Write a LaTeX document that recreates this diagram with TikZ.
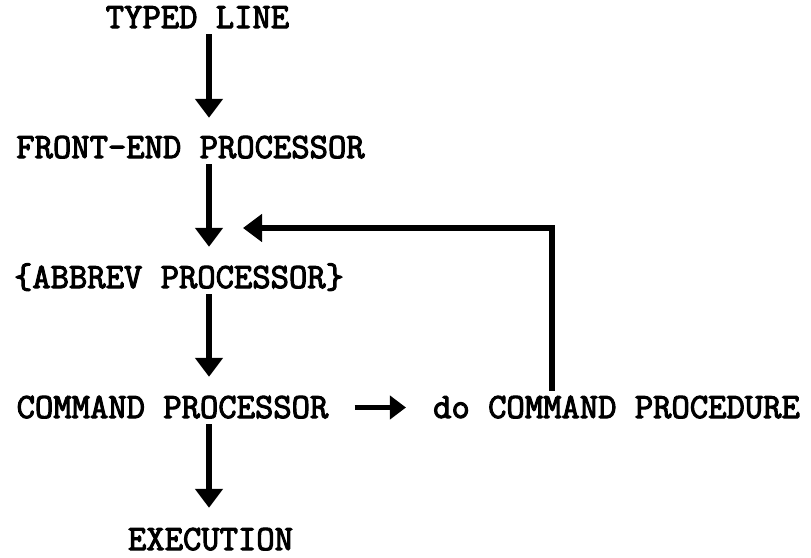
\documentclass[tikz,border=0pt]{standalone}
\usepackage{fontspec}
\newfontfamily\twfont{Latin Modern Mono}[FakeBold=3]
\usetikzlibrary{arrows.meta}
\begin{document}
\begin{tikzpicture}[x=1pt,y=-1pt,
  lbl/.style={anchor=base, inner xsep=0pt, inner ysep=6pt, text height=21pt, text depth=0pt,
    font=\twfont\fontsize{35.6}{40}\selectfont},
  arr/.style={line width=5.5pt, -{Triangle[width=27pt,length=19pt]}},
  sarr/.style={line width=5.5pt, -{Triangle[width=23pt,length=16pt]}}]
\useasboundingbox (0,0) rectangle (811,557);
\node[lbl] (tl) at (197.5,28) {TYPED LINE};
\node[lbl] (fe) at (190.5,158) {FRONT-END PROCESSOR};
\node[lbl] (ab) at (179,288) {\{ABBREV PROCESSOR\}};
\node[lbl] (cp) at (172.5,418) {COMMAND PROCESSOR};
\node[lbl] (dc) at (616.5,418) {do COMMAND PROCEDURE};
\node[lbl] (ex) at (210.5,550) {EXECUTION};
\coordinate (ax) at (209,0);
\coordinate (fx) at (552,0);
\coordinate (fb) at (243,228);
\draw[arr, shorten >=13pt] (tl.south -| ax) -- (fe.north -| ax);
\draw[arr, shorten >=14pt] (fe.south -| ax) -- (ab.north -| ax);
\draw[arr, shorten >=14pt] (ab.south -| ax) -- (cp.north -| ax);
\draw[arr, shorten >=15pt] (cp.south -| ax) -- (ex.north -| ax);
\draw[sarr, shorten <=26pt, shorten >=27pt] (cp.east) -- (dc.west);
\draw[arr] (dc.north -| fx) |- (fb);
\end{tikzpicture}
\end{document}
